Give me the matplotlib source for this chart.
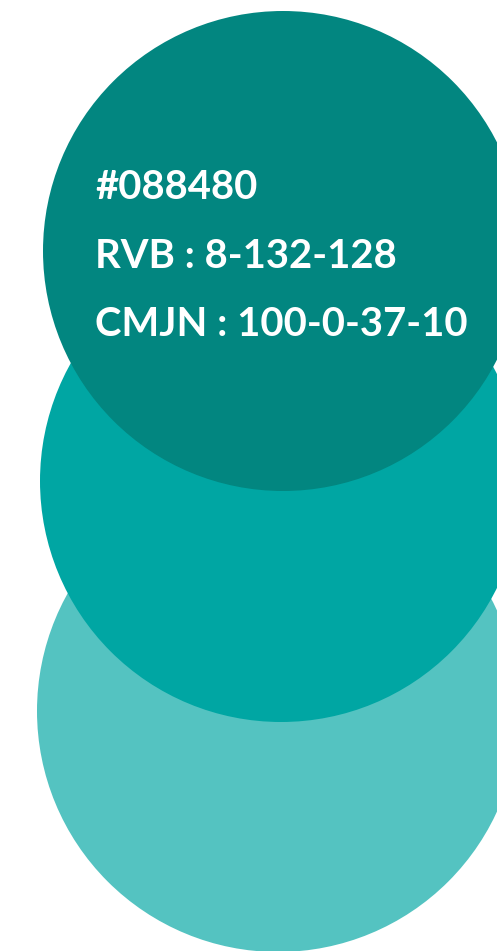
import matplotlib.pyplot as plt
from matplotlib.patches import Circle

# colour swatch: three stacked circles, darkest on top
swatch_colors = ['#54C3C1', '#00A6A3', '#028680']
circle_x = [278, 281, 283]
circle_y = [711, 481, 251]
circle_r = [241, 241, 240]

info_lines = ['#088480', 'RVB : 8-132-128', 'CMJN : 100-0-37-10']

fig = plt.figure(figsize=(4.97, 9.51), dpi=100)
ax = fig.add_axes([0, 0, 1, 1])
ax.set_xlim(0, 497)
ax.set_ylim(951, 0)
ax.set_aspect('equal')
ax.axis('off')

for c, x, y, r in zip(swatch_colors, circle_x, circle_y, circle_r):
    ax.add_patch(Circle((x, y), r, color=c, lw=0))

for i, line in enumerate(info_lines):
    ax.text(95, 199 + i * 68.5, line, color='white', fontsize=28.8,
            fontweight='bold', family='Lato', va='baseline', ha='left')

fig.savefig('out.png', dpi=100)
